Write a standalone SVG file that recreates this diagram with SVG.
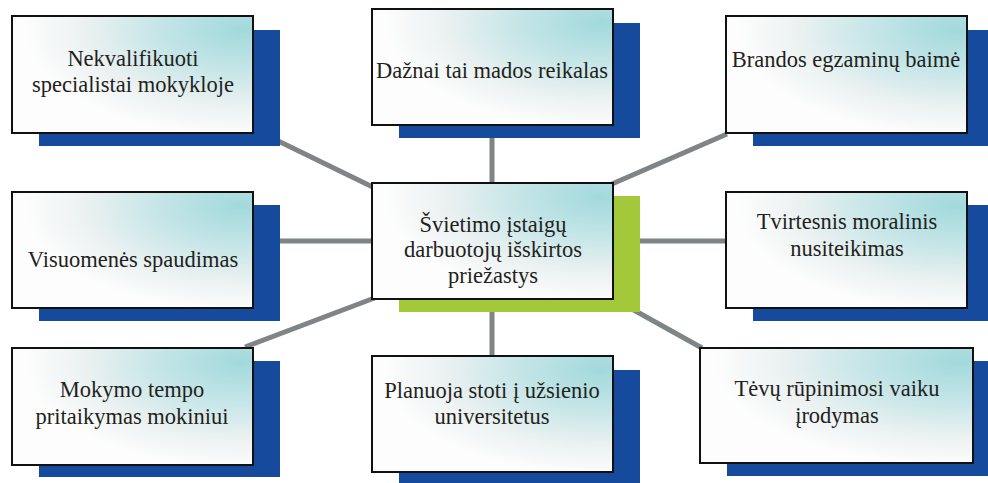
<svg xmlns="http://www.w3.org/2000/svg" width="988" height="483" viewBox="0 0 988 483">
<defs>
<radialGradient id="boxfill" cx="0.95" cy="0.12" r="0.9" fx="0.95" fy="0.12">
<stop offset="0" stop-color="#a2d9dc"/>
<stop offset="0.4" stop-color="#c7e6e8"/>
<stop offset="0.72" stop-color="#ebf1f1"/>
<stop offset="1" stop-color="#fdfdfd"/>
</radialGradient>
</defs>
<style>
.sh{fill:#154a9c}
.shg{fill:#a3c93a}
.bx{fill:url(#boxfill);stroke:#111;stroke-width:2}
.t{font-family:"Liberation Serif","Times New Roman",serif;font-size:22.5px;fill:#231f20;text-anchor:middle}
.c{stroke:#7f8487;stroke-width:5;fill:none;stroke-linecap:butt}
</style>
<rect width="988" height="483" fill="#ffffff"/>
<g id="connectors">
<line class="c" x1="270" y1="137" x2="385" y2="193"/>
<line class="c" x1="492" y1="130" x2="492" y2="190"/>
<line class="c" x1="727" y1="134" x2="605" y2="187"/>
<line class="c" x1="270" y1="241" x2="380" y2="241"/>
<line class="c" x1="630" y1="241" x2="730" y2="241"/>
<line class="c" x1="245" y1="347" x2="385" y2="294"/>
<line class="c" x1="492" y1="305" x2="492" y2="360"/>
<line class="c" x1="605" y1="294" x2="702" y2="348"/>
</g>
<g id="n1">
<rect class="sh" x="39" y="30" width="241" height="116"/>
<rect class="bx" x="12" y="16" width="241" height="117"/>
<text class="t" x="133" y="66">Nekvalifikuoti</text>
<text class="t" x="133" y="92">specialistai mokykloje</text>
</g>
<g id="n2">
<rect class="sh" x="399" y="23" width="241" height="115"/>
<rect class="bx" x="372" y="9" width="241" height="116"/>
<text class="t" x="492" y="78">Dažnai tai mados reikalas</text>
</g>
<g id="n3">
<rect class="sh" x="753" y="30" width="240" height="116"/>
<rect class="bx" x="726" y="16" width="241" height="117"/>
<text class="t" x="846" y="67">Brandos egzaminų baimė</text>
</g>
<g id="n4">
<rect class="sh" x="39" y="205" width="241" height="116"/>
<rect class="bx" x="12" y="192" width="241" height="116"/>
<text class="t" x="133" y="267">Visuomenės spaudimas</text>
</g>
<g id="center">
<rect class="shg" x="399" y="196" width="241" height="116"/>
<rect class="bx" x="372" y="183" width="241" height="116"/>
<text class="t" x="493" y="232">Švietimo įstaigų</text>
<text class="t" x="493" y="257">darbuotojų išskirtos</text>
<text class="t" x="493" y="283">priežastys</text>
</g>
<g id="n5">
<rect class="sh" x="753" y="205" width="240" height="116"/>
<rect class="bx" x="726" y="192" width="241" height="116"/>
<text class="t" x="847" y="229">Tvirtesnis moralinis</text>
<text class="t" x="847" y="256">nusiteikimas</text>
</g>
<g id="n6">
<rect class="sh" x="39" y="361" width="241" height="116"/>
<rect class="bx" x="12" y="348" width="241" height="117"/>
<text class="t" x="132" y="397">Mokymo tempo</text>
<text class="t" x="132" y="424">pritaikymas mokiniui</text>
</g>
<g id="n7">
<rect class="sh" x="399" y="370" width="241" height="116"/>
<rect class="bx" x="372" y="356" width="241" height="116"/>
<text class="t" x="492" y="398">Planuoja stoti į užsienio</text>
<text class="t" x="492" y="424">universitetus</text>
</g>
<g id="n8">
<rect class="sh" x="727" y="361" width="270" height="115"/>
<rect class="bx" x="700" y="348" width="273" height="115"/>
<text class="t" x="837" y="396">Tėvų rūpinimosi vaiku</text>
<text class="t" x="837" y="423">įrodymas</text>
</g>
</svg>
